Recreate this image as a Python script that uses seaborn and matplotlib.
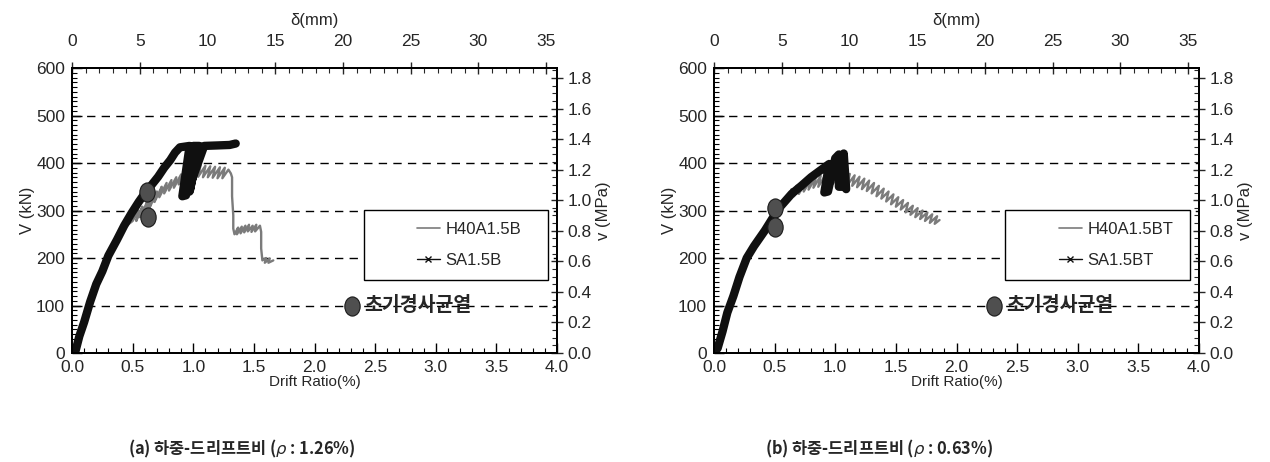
import matplotlib
matplotlib.use("Agg")
import matplotlib.pyplot as plt
import seaborn as sns
from matplotlib.ticker import MultipleLocator, FormatStrFormatter
from matplotlib.lines import Line2D
from matplotlib.patches import Rectangle
from matplotlib.path import Path
from matplotlib.transforms import Affine2D

sns.set_theme(style="ticks")
plt.rcParams["font.family"] = ["Liberation Sans", "Noto Sans CJK KR", "DejaVu Sans"]
plt.rcParams["mathtext.fontset"] = "dejavusans"

# ---------------- data ----------------
# (a) rho = 1.26 %
a_h40_drift = [0.00, 0.04, 0.08, 0.12, 0.16, 0.20, 0.25, 0.30, 0.35, 0.40, 0.45, 0.50,
               0.55, 0.53, 0.58, 0.56, 0.62, 0.60, 0.66, 0.64, 0.70, 0.68, 0.74, 0.72,
               0.78, 0.76, 0.82, 0.80, 0.86, 0.84, 0.90, 0.88, 0.94, 0.92, 0.98, 0.96,
               1.02, 1.00, 1.06, 1.04, 1.10, 1.08, 1.14, 1.12, 1.18, 1.16, 1.22, 1.20,
               1.26, 1.24, 1.29, 1.31, 1.32, 1.32, 1.33, 1.33, 1.34,
               1.37, 1.36, 1.40, 1.39, 1.43, 1.42, 1.46, 1.45, 1.49, 1.48, 1.52, 1.51, 1.55,
               1.56, 1.56, 1.57, 1.60, 1.59, 1.63, 1.62, 1.66]
a_h40_shear = [0, 15, 50, 85, 115, 140, 170, 200, 228, 252, 268, 278,
               300, 278, 308, 286, 318, 296, 328, 306, 340, 318, 350, 328,
               358, 336, 364, 342, 370, 348, 376, 355, 384, 362, 390, 366,
               394, 370, 395, 371, 394, 370, 393, 370, 392, 369, 391, 368,
               390, 368, 386, 378, 370, 330, 290, 262, 250,
               264, 250, 266, 252, 268, 254, 270, 256, 268, 255, 270, 256, 268,
               255, 220, 195, 200, 190, 199, 190, 195]

a_sa_drift = [0.00, 0.03, 0.06, 0.10, 0.15, 0.20, 0.25, 0.30, 0.37, 0.43, 0.49, 0.55,
              0.60, 0.66, 0.71, 0.76, 0.81, 0.85, 0.89, 0.97, 0.91, 0.94, 1.00, 1.05,
              0.97, 0.99, 1.09, 1.20, 1.30, 1.35]
a_sa_shear = [0, 5, 35, 65, 108, 145, 172, 205, 238, 268, 294, 318,
              336, 355, 371, 390, 406, 422, 433, 436, 330, 332, 436, 436,
              340, 365, 436, 437, 438, 441]

a_crack_drift = [0.62, 0.63]
a_crack_shear = [338, 287]

# (b) rho = 0.63 %
b_h40_drift = [0.00, 0.04, 0.08, 0.12, 0.16, 0.20, 0.25, 0.30, 0.35, 0.40, 0.45, 0.50, 0.55, 0.60,
               0.64, 0.62, 0.68, 0.66, 0.72, 0.70, 0.76, 0.74, 0.80, 0.78, 0.84, 0.82,
               0.88, 0.86, 0.92, 0.90, 0.96, 0.94, 1.00, 0.98, 1.04, 1.02, 1.08, 1.06,
               1.12, 1.10, 1.16, 1.14, 1.20, 1.18, 1.24, 1.22, 1.28, 1.26, 1.32, 1.30,
               1.36, 1.34, 1.40, 1.38, 1.44, 1.42, 1.48, 1.46, 1.52, 1.50, 1.56, 1.54,
               1.60, 1.58, 1.64, 1.62, 1.68, 1.66, 1.72, 1.70, 1.76, 1.74, 1.80, 1.78,
               1.84, 1.82, 1.86]
b_h40_shear = [0, 20, 50, 85, 115, 145, 178, 205, 230, 252, 272, 288, 305, 320,
               345, 322, 352, 330, 358, 335, 362, 340, 366, 344, 370, 348,
               373, 350, 375, 352, 377, 354, 378, 356, 379, 356, 378, 356,
               377, 354, 374, 352, 371, 349, 367, 345, 363, 341, 358, 336,
               352, 330, 346, 325, 340, 319, 334, 313, 328, 308, 322, 302,
               316, 296, 310, 291, 305, 286, 300, 282, 296, 278, 292, 274,
               288, 272, 280]

b_sa_drift = [0.00, 0.03, 0.07, 0.11, 0.16, 0.21, 0.27, 0.33, 0.42, 0.53, 0.64, 0.72,
              0.80, 0.88, 0.95, 0.91, 0.94, 1.00, 1.03, 1.03, 1.06, 1.07, 1.09]
b_sa_shear = [0, 10, 45, 85, 120, 160, 200, 225, 258, 303, 335, 352,
              370, 385, 398, 338, 340, 410, 418, 350, 350, 420, 345]

b_crack_drift = [0.50, 0.50]
b_crack_shear = [305, 266]

note_drift = [2.31]
note_shear = [100]

grid_levels = [100, 200, 300, 400, 500]
series_names = [("H40A1.5B", "SA1.5B"), ("H40A1.5BT", "SA1.5BT")]
captions = ["(a) 하중-드리프트비 ($\\rho$ : 1.26%)", "(b) 하중-드리프트비 ($\\rho$ : 0.63%)"]
note_text = "초기경사균열"

# ---------------- styling ----------------
GRAY = "#7b7b7b"
BLACK = "#101010"
DOT = "#4f4f4f"
DRIFT_MAX = 4.0
V_MAX = 600
DELTA_MAX = 35.8      # displacement (mm) at 4 % drift
STRESS_MAX = 1.865    # shear stress (MPa) at 600 kN
TICK_FS = 12.5
KR = ["Noto Sans CJK KR", "DejaVu Sans"]

# slightly tall ellipse used for the crack markers
ellipse = Path.unit_circle().transformed(Affine2D().scale(1.0, 1.25))

fig = plt.figure(figsize=(12.7, 4.62), dpi=100)
ax_a = fig.add_axes([0.0567, 0.2359, 0.3819, 0.6169])
ax_b = fig.add_axes([0.5622, 0.2359, 0.3819, 0.6169])

panels = [
    (ax_a, a_h40_drift, a_h40_shear, a_sa_drift, a_sa_shear, a_crack_drift, a_crack_shear),
    (ax_b, b_h40_drift, b_h40_shear, b_sa_drift, b_sa_shear, b_crack_drift, b_crack_shear),
]
caption_x = [0.19, 0.692]

for i, (ax, hx, hv, sx, sv, cx, cv) in enumerate(panels):
    ax.set_xlim(0, DRIFT_MAX)
    ax.set_ylim(0, V_MAX)
    for lvl in grid_levels:
        ax.axhline(lvl, color="black", lw=1.0, dashes=(6, 4.5), zorder=1)

    sns.lineplot(x=hx, y=hv, sort=False, estimator=None, color=GRAY, lw=1.7,
                 ax=ax, zorder=3)
    sns.lineplot(x=sx, y=sv, sort=False, estimator=None, color=BLACK, lw=6.0,
                 ax=ax, zorder=4)
    sns.scatterplot(x=cx, y=cv, marker=ellipse, s=190, color=DOT, edgecolor="#1a1a1a",
                    linewidth=0.8, ax=ax, zorder=6)

    # initial diagonal crack note
    sns.scatterplot(x=note_drift, y=note_shear, marker=ellipse, s=190, color=DOT,
                    edgecolor="#1a1a1a", linewidth=0.8, ax=ax, zorder=6)
    ax.text(note_drift[0] + 0.1, note_shear[0], note_text, family=KR, weight="bold",
            fontsize=14, va="center", ha="left", zorder=7)

    # legend box
    ax.add_patch(Rectangle((0.601, 0.256), 0.380, 0.246, transform=ax.transAxes,
                           facecolor="white", edgecolor="black", lw=1.0, zorder=8))
    handles = [Line2D([], [], color=GRAY, lw=1.2),
               Line2D([], [], color=BLACK, lw=1.0, marker="x", markersize=4)]
    ax.legend(handles, series_names[i], loc="center left", bbox_to_anchor=(0.68, 0.379),
              frameon=False, fontsize=12, labelspacing=1.0, handlelength=1.4,
              handletextpad=0.3).set_zorder(9)

    # bottom / left axes
    ax.xaxis.set_major_locator(MultipleLocator(0.5))
    ax.xaxis.set_minor_locator(MultipleLocator(0.1))
    ax.yaxis.set_major_locator(MultipleLocator(100))
    ax.yaxis.set_minor_locator(MultipleLocator(10))
    ax.xaxis.set_major_formatter(FormatStrFormatter("%.1f"))
    ax.tick_params(axis="both", which="major", direction="in", length=7, width=1.0,
                   labelsize=TICK_FS, color="black", pad=5)
    ax.tick_params(axis="both", which="minor", direction="in", length=3.5, width=0.8,
                   color="black")
    ax.tick_params(axis="y", which="both", left=True, right=False)
    ax.tick_params(axis="x", which="both", bottom=True, top=False)
    ax.set_xlabel("Drift Ratio(%)", fontsize=11, labelpad=0)
    ax.set_ylabel("V (kN)", fontsize=12, labelpad=1)

    # top axis: displacement
    ax_top = ax.twiny()
    ax_top.set_xlim(0, DELTA_MAX)
    ax_top.xaxis.set_major_locator(MultipleLocator(5))
    ax_top.xaxis.set_minor_locator(MultipleLocator(1))
    ax_top.tick_params(axis="x", which="major", direction="inout", length=9, width=1.0,
                       labelsize=TICK_FS, pad=9)
    ax_top.tick_params(axis="x", which="minor", direction="in", length=3.5, width=0.8)
    ax_top.set_xlabel("δ(mm)", fontsize=12, labelpad=7)

    # right axis: shear stress
    ax_r = ax.twinx()
    ax_r.set_ylim(0, STRESS_MAX)
    ax_r.yaxis.set_major_locator(MultipleLocator(0.2))
    ax_r.yaxis.set_minor_locator(MultipleLocator(0.05))
    ax_r.yaxis.set_major_formatter(FormatStrFormatter("%.1f"))
    ax_r.tick_params(axis="y", which="major", direction="inout", length=9, width=1.0,
                     labelsize=TICK_FS, pad=3)
    ax_r.tick_params(axis="y", which="minor", direction="in", length=3.5, width=0.8)
    ax_r.set_ylabel("v (MPa)", fontsize=12, labelpad=3)

    for a in (ax, ax_top, ax_r):
        for sp in a.spines.values():
            sp.set_color("black")
            sp.set_linewidth(1.2)

    fig.text(caption_x[i], 0.028, captions[i], family=KR, weight="bold", fontsize=11.8,
             ha="center", va="center")

fig.savefig("out.png", dpi=100)
